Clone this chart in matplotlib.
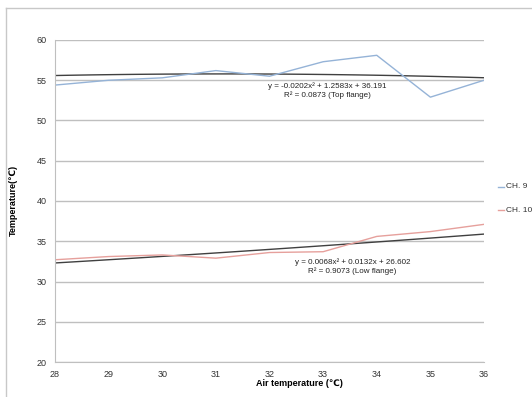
import numpy as np
import matplotlib
matplotlib.use("Agg")
import matplotlib.pyplot as plt
from matplotlib.lines import Line2D

plt.rcParams['font.family'] = ['Liberation Sans', 'DejaVu Sans']

# data
air_temp = [28, 29, 30, 31, 32, 33, 34, 35, 36]
ch9 = [54.4, 55.0, 55.3, 56.2, 55.5, 57.3, 58.1, 52.9, 55.0]
ch10 = [32.7, 33.1, 33.3, 32.9, 33.6, 33.7, 35.6, 36.2, 37.1]

# trendline coefficients as printed on the chart
top_coef = [-0.0202, 1.2583, 36.191]
low_coef = [0.0068, 0.0132, 26.602]
top_label = "y = -0.0202x² + 1.2583x + 36.191\nR² = 0.0873 (Top flange)"
low_label = "y = 0.0068x² + 0.0132x + 26.602\nR² = 0.9073 (Low flange)"

yticks = [20, 25, 30, 35, 40, 45, 50, 55, 60]

W, H = 532, 397
fig = plt.figure(figsize=(W / 100, H / 100), dpi=100)
fig.patch.set_facecolor('white')

# outer chart border (cropped at right/bottom)
fig.add_artist(Line2D([6 / W, 1], [1 - 8 / H, 1 - 8 / H], color='#c8c8c8', lw=1))
fig.add_artist(Line2D([6 / W, 6 / W], [0, 1 - 8 / H], color='#c8c8c8', lw=1))

ax = fig.add_axes([55 / W, 1 - 362 / H, (484 - 55) / W, (362 - 40) / H])
ax.set_xlim(28, 36)
ax.set_ylim(20, 60)
ax.set_yticks(yticks)
ax.set_xticks(air_temp)
ax.grid(axis='y', color='#bfbfbf', lw=1)
ax.set_axisbelow(True)
for s in ['top', 'right']:
    ax.spines[s].set_visible(False)
for s in ['left', 'bottom']:
    ax.spines[s].set_color('#bfbfbf')
ax.tick_params(length=0, labelsize=6.5, pad=6, colors='#333333')

xs = np.linspace(28, 36, 100)
ax.plot(xs, np.polyval(top_coef, xs), color='#404040', lw=1)
ax.plot(xs, np.polyval(low_coef, xs), color='#404040', lw=1)
ax.plot(air_temp, ch9, color='#95b3d7', lw=1, label='CH. 9')
ax.plot(air_temp, ch10, color='#e6a09c', lw=1, label='CH. 10')

ax.text(33.08, 54.8, top_label, ha='center', va='top', fontsize=5.8,
        linespacing=1.25, color='#222222')
ax.text(33.55, 32.9, low_label, ha='center', va='top', fontsize=5.8,
        linespacing=1.25, color='#222222')

fig.text(299 / W, 1 - 383 / H, 'Air temperature (℃)', ha='center', va='center',
         fontsize=6.5, fontweight='bold')
fig.text(13 / W, 1 - 200 / H, 'Temperature(℃)', ha='center', va='center',
         rotation=90, fontsize=6.5, fontweight='bold')

# legend entries
for yy, lab, col in [(187, 'CH. 9', '#95b3d7'), (210, 'CH. 10', '#e6a09c')]:
    fig.add_artist(Line2D([498 / W, 504 / W], [1 - yy / H] * 2, color=col, lw=1))
    fig.text(506 / W, 1 - yy / H, lab, ha='left', va='center', fontsize=6, color='#333333')

fig.savefig('out.png', dpi=100)
